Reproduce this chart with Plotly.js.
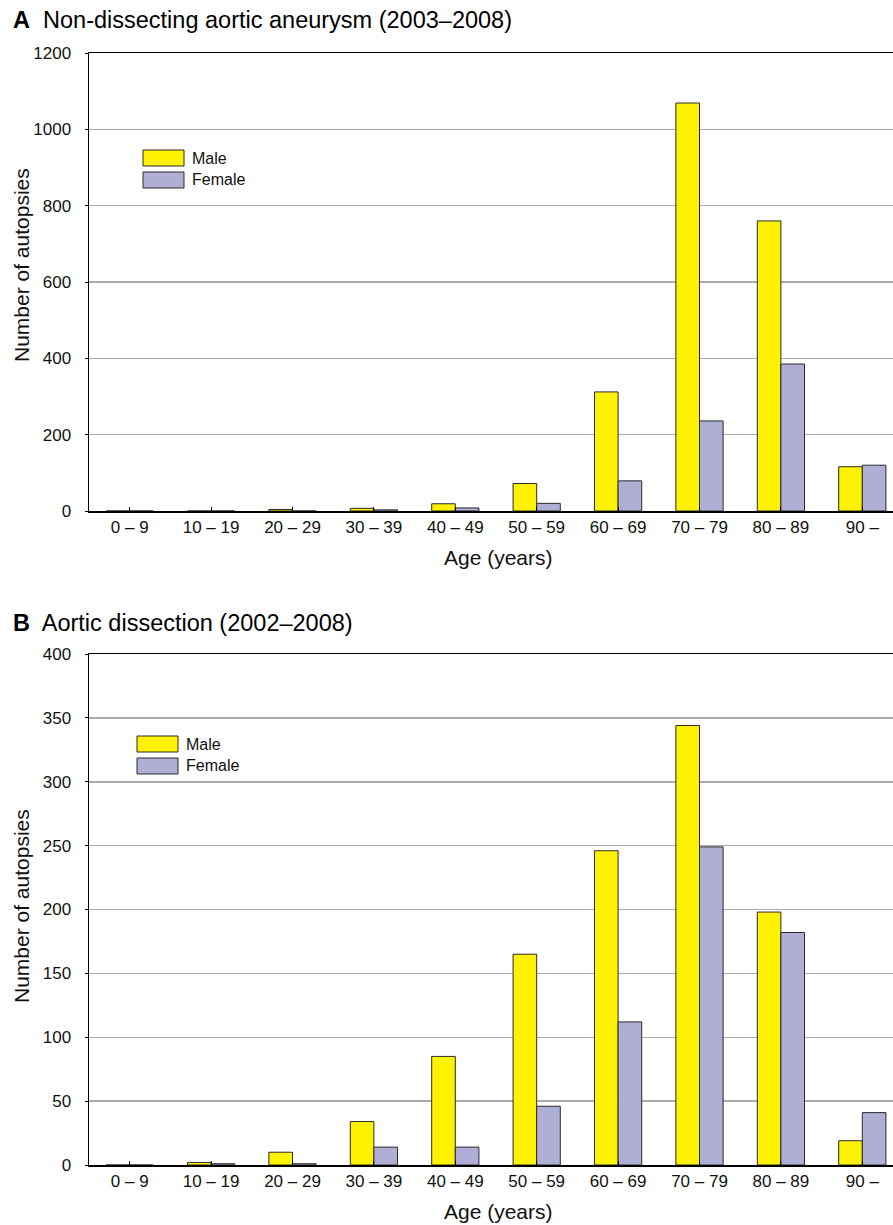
<!DOCTYPE html>
<html>
<head>
<meta charset="utf-8">
<script src="https://cdn.plot.ly/plotly-3.0.1.min.js"></script>
<style>
html,body{margin:0;padding:0;background:#fff;overflow:hidden;}
#chart{width:893px;height:1225px;}
</style>
</head>
<body>
<div id="chart"></div>
<script>
// ---- data ----
const categories = ["0 \u2013 9", "10 \u2013 19", "20 \u2013 29", "30 \u2013 39", "40 \u2013 49",
                    "50 \u2013 59", "60 \u2013 69", "70 \u2013 79", "80 \u2013 89", "90 \u2013"];
const aneurysmMale   = [0, 0, 4, 7, 19, 72, 312, 1069, 760, 116];
const aneurysmFemale = [0, 0, 0, 3, 8, 20, 79, 236, 385, 120];
const dissectionMale   = [0, 2, 10, 34, 85, 165, 246, 344, 198, 19];
const dissectionFemale = [0, 1, 1, 14, 14, 46, 112, 249, 182, 41];
const seriesNames = ["Male", "Female"];
const panelTitles = ["<b>A</b>  Non-dissecting aortic aneurysm (2003\u20132008)",
                     "<b>B</b>  Aortic dissection (2002\u20132008)"];
const xTitle = "Age (years)";
const yTitle = "Number of autopsies";
const aneurysmTicks = [0, 200, 400, 600, 800, 1000, 1200];
const dissectionTicks = [0, 50, 100, 150, 200, 250, 300, 350, 400];

// ---- style ----
const W = 893, H = 1225;
const maleColor = "#FFF200", femaleColor = "#AFAFD6", edge = "#2a2a2a";
const FONT = "Liberation Sans, Arial, sans-serif";
const px = x => x / W;
const py = y => 1 - y / H;
const idx = categories.map((_, i) => i);

function bar(y, name, color, xa, ya) {
  return {type: "bar", x: idx, y: y, name: name, xaxis: xa, yaxis: ya,
          marker: {color: color, line: {color: edge, width: 1}},
          showlegend: false, hoverinfo: "x+y"};
}

const traces = [
  bar(aneurysmMale, seriesNames[0], maleColor, "x", "y"),
  bar(aneurysmFemale, seriesNames[1], femaleColor, "x", "y"),
  bar(dissectionMale, seriesNames[0], maleColor, "x2", "y2"),
  bar(dissectionFemale, seriesNames[1], femaleColor, "x2", "y2")
];

const catW = 81.4, left = 89;
const xRange = [-0.5, (W - left) / catW - 0.5];

function xaxis(anchor) {
  return {domain: [px(left), 1], anchor: anchor, range: xRange,
          tickmode: "array", tickvals: idx, ticktext: categories,
          tickson: "boundaries", ticks: "inside", ticklen: 4, tickcolor: "#000",
          showline: true, linecolor: "#000", linewidth: 1.5, mirror: true,
          showgrid: false, zeroline: false, fixedrange: true,
          tickfont: {family: FONT, size: 17, color: "#111"}};
}
function yaxis(anchor, dom, maxV, ticks) {
  return {domain: dom, anchor: anchor, range: [0, maxV],
          tickmode: "array", tickvals: ticks,
          ticks: "outside", ticklen: 3, tickcolor: "#000",
          showline: true, linecolor: "#000", linewidth: 1.5,
          showgrid: true, gridcolor: "#ababab", gridwidth: 1.5,
          zeroline: false, fixedrange: true, ticklabelstandoff: 10,
          tickfont: {family: FONT, size: 17, color: "#111"}};
}

const annFont = {family: FONT, size: 21, color: "#111"};
const titleFont = {family: FONT, size: 23.5, color: "#000"};
const annotations = [
  {text: panelTitles[0], x: px(11), y: py(20), xref: "paper", yref: "paper", xanchor: "left", yanchor: "middle", showarrow: false, font: titleFont},
  {text: panelTitles[1], x: px(11), y: py(623), xref: "paper", yref: "paper", xanchor: "left", yanchor: "middle", showarrow: false, font: titleFont},
  {text: xTitle, x: px(498), y: py(557), xref: "paper", yref: "paper", xanchor: "center", yanchor: "middle", showarrow: false, font: annFont},
  {text: xTitle, x: px(498), y: py(1211), xref: "paper", yref: "paper", xanchor: "center", yanchor: "middle", showarrow: false, font: annFont},
  {text: yTitle, x: px(21), y: py(265), xref: "paper", yref: "paper", xanchor: "center", yanchor: "middle", textangle: -90, showarrow: false, font: annFont},
  {text: yTitle, x: px(21), y: py(906), xref: "paper", yref: "paper", xanchor: "center", yanchor: "middle", textangle: -90, showarrow: false, font: annFont}
];
const shapes = [];
function legend(x, yTop) {
  [maleColor, femaleColor].forEach((c, i) => {
    const y0 = yTop + i * 22;
    shapes.push({type: "rect", xref: "paper", yref: "paper", x0: px(x), x1: px(x + 41), y0: py(y0), y1: py(y0 + 16),
                 fillcolor: c, line: {color: edge, width: 1}});
    annotations.push({text: seriesNames[i], x: px(x + 47), y: py(y0 + 8), xref: "paper", yref: "paper",
                      xanchor: "left", yanchor: "middle", showarrow: false, font: {family: FONT, size: 16, color: "#111"}});
  });
}
legend(143, 150);
legend(137, 736);

const layout = {
  width: W, height: H, margin: {l: 0, r: 0, t: 0, b: 0},
  paper_bgcolor: "#fff", plot_bgcolor: "#fff",
  barmode: "group", bargap: 0.42, bargroupgap: 0,
  xaxis: xaxis("y"), yaxis: yaxis("x", [py(511), py(53)], 1200, aneurysmTicks),
  xaxis2: xaxis("y2"), yaxis2: yaxis("x2", [py(1165), py(654)], 400, dissectionTicks),
  annotations: annotations, shapes: shapes, showlegend: false
};

Plotly.newPlot("chart", traces, layout, {displayModeBar: false, staticPlot: true});
</script>
</body>
</html>
